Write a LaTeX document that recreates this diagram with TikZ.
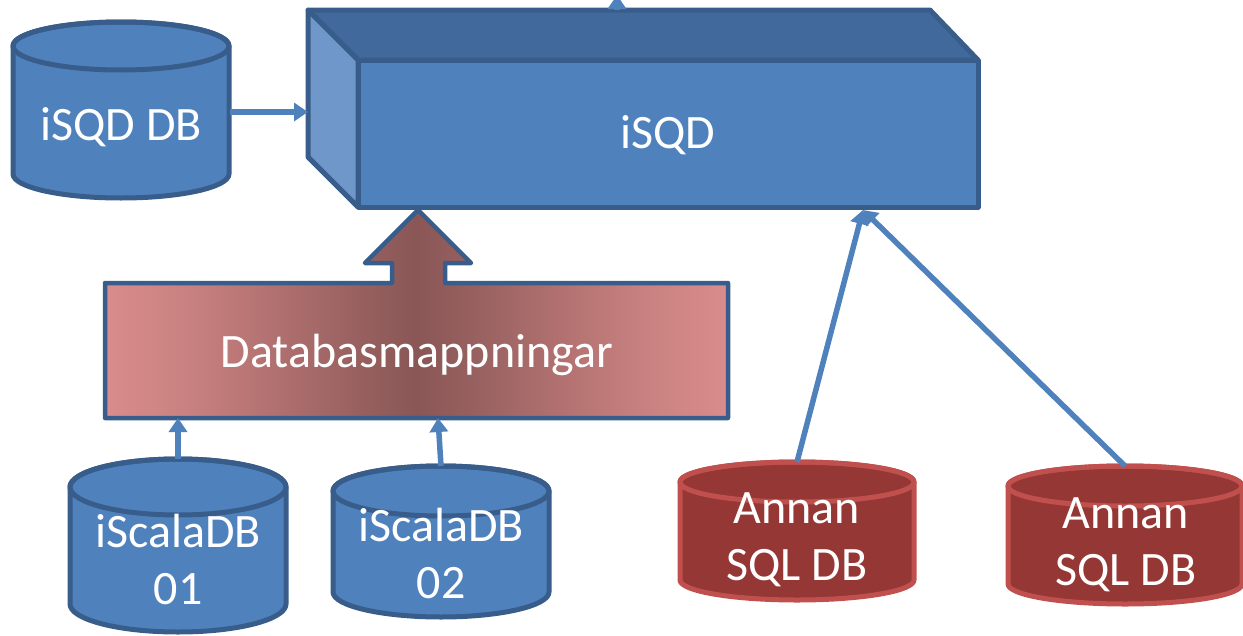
\documentclass[tikz,border=0pt]{standalone}
\usepackage{fontspec}
\setmainfont{Carlito}
\usetikzlibrary{arrows.meta}
\definecolor{bfill}{HTML}{4F81BD}
\definecolor{bdraw}{HTML}{385D8A}
\definecolor{btop}{HTML}{41699B}
\definecolor{bleft}{HTML}{7097CA}
\definecolor{rfill}{HTML}{953735}
\definecolor{rdraw}{HTML}{C0504D}
\definecolor{pinkL}{HTML}{D98C8B}
\definecolor{pinkA}{HTML}{CA8382}
\definecolor{pinkB}{HTML}{B37271}
\definecolor{pinkC}{HTML}{9C6463}
\definecolor{pinkD}{HTML}{8A5656}
\pgfdeclarehorizontalshading{mapshade}{100bp}{color(0bp)=(pinkL); color(25bp)=(pinkL); color(31bp)=(pinkA); color(38bp)=(pinkB); color(44bp)=(pinkC); color(50bp)=(pinkD); color(56bp)=(pinkC); color(62bp)=(pinkB); color(69bp)=(pinkA); color(75bp)=(pinkL); color(100bp)=(pinkL)}
\newcommand{\dbcyl}[8]{%
  % #1 name, #2 cx, #3 top cy, #4 bottom cy, #5 rx, #6 ry, #7 fill, #8 draw
  \filldraw[fill=#7,draw=#8,cylline] (#2-#5,#3) -- (#2-#5,#4)
    arc[start angle=180,end angle=0,x radius=#5,y radius=#6] -- (#2+#5,#3)
    arc[start angle=0,end angle=-180,x radius=#5,y radius=#6] -- cycle;
  \draw[draw=#8,cylline] (#2,#3) ellipse[x radius=#5,y radius=#6];
  \coordinate (#1-top) at (#2,#3-#6);
}
\tikzset{
  cylline/.style={line width=5pt,line join=round},
  lbl/.style={text=white,font=\fontsize{48}{57}\selectfont,align=center,inner sep=0pt},
  conn/.style={draw=bfill,line width=5.5pt,-{Triangle[length=14pt,width=18pt]}},
}
\begin{document}
\begin{tikzpicture}[x=1pt,y=-1pt]
\useasboundingbox (0,0) rectangle (1243,635);
% 3D box iSQD
\filldraw[fill=btop,draw=bdraw,cylline] (308,10) -- (930,10) -- (978,60) -- (358,60) -- cycle;
\filldraw[fill=bleft,draw=bdraw,cylline] (308,10) -- (358,60) -- (358,207) -- (308,157) -- cycle;
\filldraw[fill=bfill,draw=bdraw,cylline] (358,60) rectangle (978,207);
\node[lbl] (isqd) at (668,135) {iSQD};
\coordinate (boxleft) at (308,112);
\coordinate (boxtop) at (617,10);
\coordinate (boxout) at (617,-5);
\coordinate (boxbot) at (863,210);
% cylinders
\dbcyl{isqddb}{121}{46}{174}{108}{24}{bfill}{bdraw}
\node[lbl] (isqddbl) at (121,127) {iSQD DB};
\coordinate (isqddbr) at (230,112);
\dbcyl{sc1}{178}{487}{604}{108}{28}{bfill}{bdraw}
\node[lbl] (sc1l) at (178,559) {iScalaDB\\01};
\dbcyl{sc2}{441}{491}{592}{108}{25}{bfill}{bdraw}
\node[lbl] (sc2l) at (441,553) {iScalaDB\\02};
\dbcyl{an1}{797}{482}{580}{117}{20}{rfill}{rdraw}
\node[lbl] (an1l) at (797,540) {Annan\\SQL DB};
\dbcyl{an2}{1125}{486}{584}{117}{20}{rfill}{rdraw}
\node[lbl] (an2l) at (1126,545) {Annan\\SQL DB};
% block arrow
\path[shading=mapshade,draw=bdraw,line width=4.5pt,line join=round]
  (105,283) -- (392,283) -- (392,263) -- (365,263) -- (418,210) -- (471,263)
  -- (445,263) -- (445,283) -- (728,283) -- (728,418) -- (105,418) -- cycle;
\node[lbl] (map) at (417,355) {Databasmappningar};
\coordinate (mapin1) at (178,418);
\coordinate (mapin2) at (438,418);
% connectors
\draw[conn] (isqddbr) -- (boxleft);
\draw[conn] (boxtop) -- (boxout);
\draw[conn] (sc1-top) -- (mapin1);
\draw[conn] (sc2-top) -- (mapin2);
\draw[conn] (an1-top) -- (boxbot);
\draw[conn] (an2-top) -- (boxbot);
\end{tikzpicture}
\end{document}
